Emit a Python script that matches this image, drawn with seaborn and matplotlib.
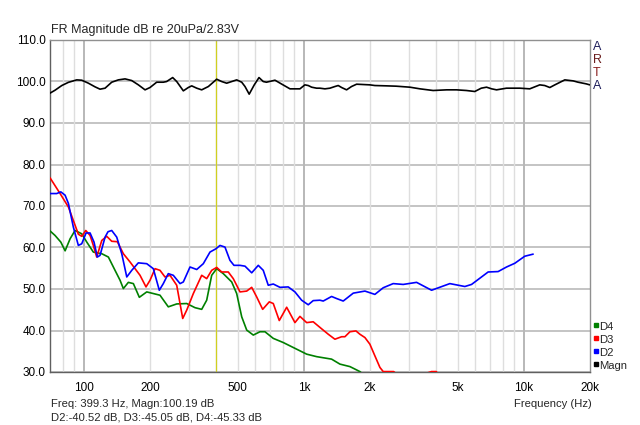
import matplotlib
matplotlib.use("Agg")
import matplotlib.pyplot as plt
from matplotlib.lines import Line2D
import seaborn as sns
import pandas as pd

# ---------------- data ----------------
magn_f = [70, 73.8, 79.2, 84.9, 92.6, 97.6, 104.6, 112.2, 118.2, 124.6, 133.6, 143.2, 153.6,
          164.7, 176.5, 189.4, 199.5, 213.9, 229.3, 237.4, 253.0, 263.9, 282.8, 297.9, 308.7,
          325.4, 342.8, 367.6, 401.1, 422.6, 445.3, 469.3, 494.5, 521.2, 539.5, 563.6, 594.4,
          624.6, 653.1, 675.6, 738.4, 790.7, 864, 959, 1010, 1046, 1084, 1142, 1182, 1246,
          1313, 1383, 1432, 1484, 1563, 1646, 1736, 1995, 2102, 2377, 2631, 3033, 3373, 3870,
          4458, 4943, 5485, 5984, 6404, 6768, 7143, 7516, 8339, 9590, 10640, 11820, 12450,
          13130, 13840, 15360, 16770, 17650, 19230, 19950]
magn_db = [97.19, 97.9, 99.03, 99.8, 100.39, 100.31, 99.6, 98.71, 98.15, 98.39, 99.83, 100.39,
           100.63, 100.23, 99.2, 97.99, 98.55, 99.83, 99.83, 99.99, 100.95, 99.99, 97.75, 98.55,
           98.95, 98.39, 97.99, 98.79, 100.55, 99.99, 99.59, 99.99, 100.39, 99.83, 98.79, 96.95,
           99.19, 100.95, 99.99, 99.83, 100.31, 99.4, 98.23, 98.23, 99.19, 99.03, 98.63, 98.39,
           98.39, 98.23, 98.39, 98.79, 99.03, 98.55, 97.99, 98.79, 99.35, 99.19, 99.03, 98.95,
           98.87, 98.63, 98.23, 97.83, 97.99, 97.99, 97.83, 97.59, 98.39, 98.63, 98.23, 97.99,
           98.39, 98.39, 98.23, 99.19, 99.03, 98.55, 99.19, 100.39, 100.15, 99.83, 99.43, 99.19]

d2_f = [70, 75.1, 78.4, 82, 84.9, 89.4, 94.2, 97.6, 102.1, 106.5, 111, 114.9, 118.2, 124.6,
        128.5, 133.6, 140.8, 148.4, 156.4, 164.8, 176.5, 192.8, 206.5, 219.9, 229.3, 241.6,
        254.6, 273.2, 282.8, 303.3, 325.4, 348.6, 373.9, 398.1, 415.1, 437.4, 460.9, 480.6,
        512, 539.5, 578.7, 619.9, 653.1, 688.3, 725.4, 778.1, 848.6, 910.2, 976.1, 1046, 1102,
        1182, 1224, 1336, 1408, 1509, 1676, 1894, 2102, 2294, 2546, 2828, 3253, 3807, 4609,
        5393, 5786, 6883, 7641, 8345, 9101, 10104, 11025]
d2_db = [73.0, 73.0, 73.4, 72.6, 70.6, 64.9, 60.5, 60.9, 63.5, 63.5, 61.3, 57.7, 58.1, 62.5,
         63.8, 64.1, 62.5, 58.5, 52.9, 54.5, 56.3, 56.1, 54.9, 49.7, 51.3, 53.7,
         53.3, 51.3, 51.7, 55.3, 54.7, 56.1, 58.9, 59.7, 60.5, 60.1, 56.9, 55.7,
         55.7, 55.5, 53.9, 55.7, 54.5, 50.9, 51.2, 50.4, 50.5, 49.3, 47.3, 46.2, 47.2,
         47.3, 47.1, 48.2, 47.7, 47.1, 49.0, 49.5, 48.7, 50.3, 51.3, 51.1, 51.6, 49.7, 51.3,
         50.6, 51.1, 54.1, 54.2, 55.3, 56.2, 57.9, 58.4]

d3_f = [70, 77.8, 84.9, 89.4, 94.2, 97.6, 101.8, 106.5, 110.2, 114.2, 120.4, 126.8, 133.6,
        141.7, 150.9, 161.9, 179.7, 191.3, 199.5, 210.3, 221.5, 233.4, 246, 263.9, 281, 293,
        314, 342.8, 361.2, 380.6, 401.1, 422.6, 452.8, 477.1, 512, 549.2, 578.7, 609.5,
        649.1, 695.6, 725.4, 772.4, 834.6, 910.2, 959, 1029, 1102, 1204, 1290, 1383, 1484,
        1536, 1619, 1724, 1797, 1894, 1995, 2102, 2216, 2294, 2400, 2560, 2700, 3300, 3800,
        4000, 4200]
d3_db = [76.8, 73.0, 69.75, 66.5, 63.2, 62.7, 64.1, 62.9, 60.5, 57.7, 61.7, 62.7, 61.5,
         61.4, 58.5, 56.5, 53.3, 50.5, 52.1, 54.9, 54.5, 52.9, 53.3, 50.9, 42.9, 44.9,
         48.9, 53.3, 52.5, 54.5, 55.2, 54.1, 54.1, 52.5, 49.3, 49.5, 50.4, 48.1,
         45.1, 46.9, 46.5, 42.4, 45.6, 41.9, 43.4, 41.9, 42.1, 40.4, 39.1, 37.9, 38.5,
         38.5, 39.7, 39.9, 39.1, 38.3, 36.7, 33.9, 31.1, 30.1, 30.1, 30.1, 29.0, 29.0, 30.1,
         30.1, 28.5]

d4_f = [70, 73.8, 78.4, 82, 86.4, 91, 97.6, 102.9, 110.2, 120.4, 129, 138.3, 145.8, 150.9,
        159, 167.6, 178.4, 192.8, 210.3, 221.5, 241.6, 263.9, 293, 319.6, 342.8, 361.2,
        380.6, 401.1, 429.8, 469.3, 494.5, 521.2, 549.2, 588.4, 631, 664.9, 725.4, 805.4,
        926.5, 1029, 1142, 1268, 1336, 1458, 1619, 1706, 1797, 1900, 2000]
d4_db = [64.0, 62.9, 61.3, 59.2, 62.1, 64.1, 63.3, 61.3, 58.9, 58.5, 57.7, 54.5, 52.1, 50.1,
         51.6, 51.3, 48.0, 49.3, 48.8, 48.5, 45.7, 46.4, 46.5, 45.5, 45.1, 47.3,
         53.3, 54.9, 53.7, 51.7, 48.9, 43.3, 40.1, 38.9, 39.7, 39.7, 38.1, 37.1,
         35.5, 34.3, 33.7, 33.3, 33.1, 31.9, 31.3, 30.7, 30.1, 29.0, 28.0]

series_names = ["D4", "D3", "D2", "Magn"]
series_colors = ["#008000", "#ff0000", "#0000ff", "#000000"]

x_ticks = [100, 200, 500, 1000, 2000, 5000, 10000, 20000]
x_ticklabels = ["100", "200", "500", "1k", "2k", "5k", "10k", "20k"]
y_ticks = [30, 40, 50, 60, 70, 80, 90, 100, 110]
cursor_freq = 399.3

title = "FR Magnitude dB re 20uPa/2.83V"
readout1 = "Freq: 399.3 Hz, Magn:100.19 dB"
readout2 = "D2:-40.52 dB, D3:-45.05 dB, D4:-45.33 dB"
xlabel = "Frequency (Hz)"

# ---------------- figure ----------------
sns.set_style("white")
plt.rcParams["font.family"] = ["Liberation Sans", "DejaVu Sans"]
FS = 8.1

fig = plt.figure(figsize=(6.4, 4.25), dpi=100)
ax = fig.add_axes([50 / 640, 1 - 372 / 425, 540 / 640, 332 / 425])
ax.set_xscale("log")
ax.set_xlim(70, 20000)
ax.set_ylim(30, 110)

# grid
for yv in y_ticks:
    ax.axhline(yv, color="#b4b4b4", lw=1.1, zorder=0)
grid_minor = [80, 90] + [m * 100 for m in range(2, 10)] + [m * 1000 for m in range(2, 10)]
for gx in grid_minor:
    ax.axvline(gx, color="#dedede", lw=1.0, zorder=0)
for gx in [100, 1000, 10000]:
    ax.axvline(gx, color="#b8b8b8", lw=1.4, zorder=0)

ax.axvline(cursor_freq, color="#d0d020", lw=0.9, zorder=1)

data = {
    "D4": (d4_f, d4_db),
    "D3": (d3_f, d3_db),
    "D2": (d2_f, d2_db),
    "Magn": (magn_f, magn_db),
}
for name, col in zip(series_names, series_colors):
    f, db = data[name]
    df = pd.DataFrame({"f": f, "db": db})
    sns.lineplot(data=df, x="f", y="db", ax=ax, color=col, lw=1.2,
                 estimator=None, sort=False, zorder=3)

ax.set_xlabel("")
ax.set_ylabel("")
ax.set_xticks(x_ticks)
ax.set_xticklabels(x_ticklabels)
ax.xaxis.set_minor_locator(matplotlib.ticker.NullLocator())
ax.set_yticks(y_ticks)
ax.set_yticklabels([f"{v:.1f}" for v in y_ticks])
ax.tick_params(axis="both", length=0, labelsize=8.5, colors="#000000")
ax.tick_params(axis="x", pad=7)
ax.tick_params(axis="y", pad=3)

for s in ["left", "bottom"]:
    ax.spines[s].set_color("#606060")
    ax.spines[s].set_linewidth(1.0)
for s in ["top", "right"]:
    ax.spines[s].set_color("#909090")
    ax.spines[s].set_linewidth(1.0)

# texts
fig.text(51 / 640, 1 - 33 / 425, title, fontsize=9, va="baseline", ha="left")
fig.text(51 / 640, 1 - 404 / 425, readout1, fontsize=FS, va="center", ha="left")
fig.text(51 / 640, 1 - 418 / 425, readout2, fontsize=FS, va="center", ha="left")
fig.text(592 / 640, 1 - 404 / 425, xlabel, fontsize=FS, va="center", ha="right")

arta = ["A", "R", "T", "A"]
arta_cols = ["#1c1c5a", "#6a1c1c", "#8a2020", "#1c1c5a"]
for i, (ch, c) in enumerate(zip(arta, arta_cols)):
    fig.text(593 / 640, 1 - (47 + 13 * i) / 425, ch, fontsize=9, color=c,
             va="center", ha="left")

# legend
for i, (name, col) in enumerate(zip(series_names, series_colors)):
    yy = 1 - (325 + 13 * i) / 425
    fig.add_artist(Line2D([595.5 / 640], [yy], marker="s", ms=2.6, color=col, ls="",
                          transform=fig.transFigure))
    fig.text(599 / 640, yy - 2 / 425, name, fontsize=FS, va="center", ha="left")

fig.savefig("out.png", dpi=100, facecolor="white")
